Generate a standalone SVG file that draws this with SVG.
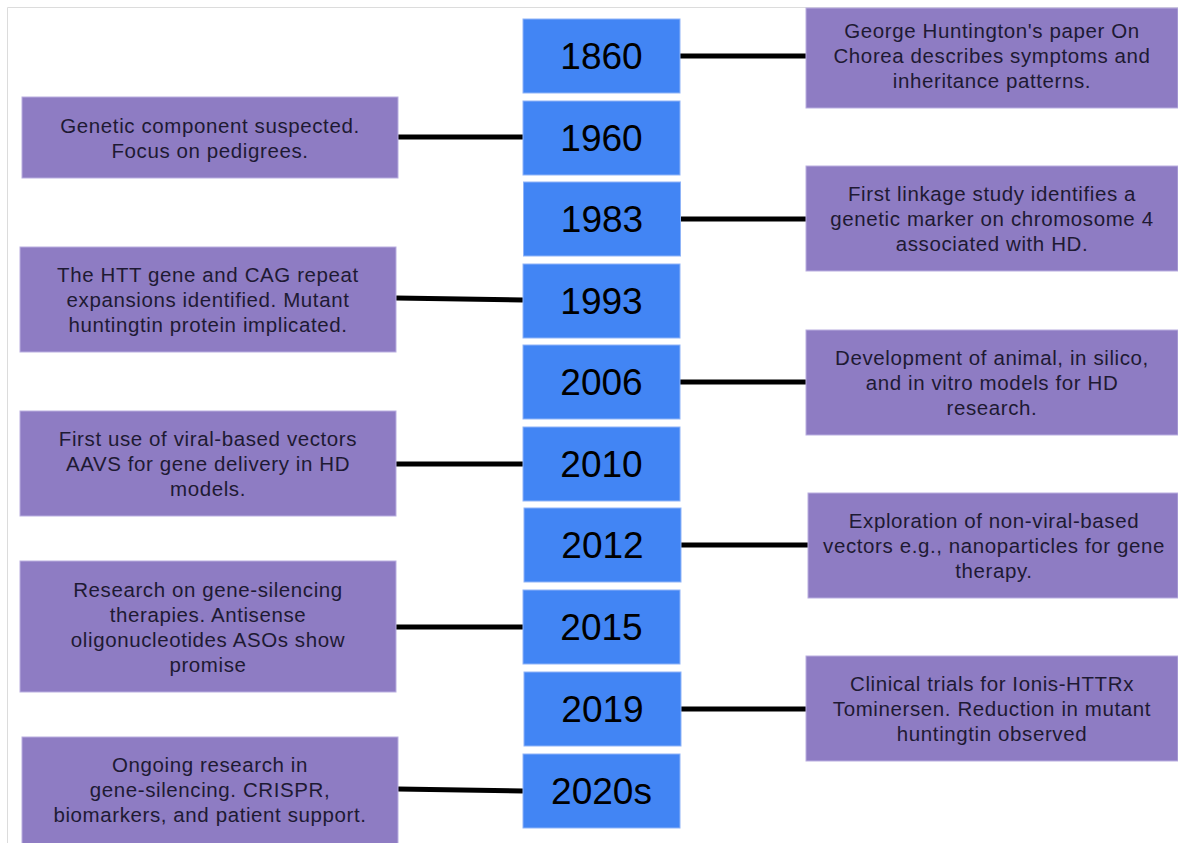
<svg xmlns="http://www.w3.org/2000/svg" width="1178" height="843" viewBox="0 0 1178 843">
<style>
.yr{fill:#4285f4;stroke:#8fb4f8;stroke-width:1}
.ds{fill:#8e7cc3;stroke:#b9aee0;stroke-width:1}
.yt{font-family:"Liberation Sans",Arial,sans-serif;font-size:37px;fill:#000;text-anchor:middle}
.dt{font-family:"Liberation Sans",Arial,sans-serif;font-size:20.5px;letter-spacing:0.6px;fill:#1e1a33;text-anchor:middle}
.cn{stroke:#000;stroke-width:5;fill:none}
</style>
<rect x="0" y="0" width="1178" height="843" fill="#fff"/>
<path d="M7.5 843V7.5H1178" stroke="#dcdcdc" stroke-width="1" fill="none"/>
<g id="connectors">
<line class="cn" x1="680" y1="56" x2="806" y2="56"/>
<line class="cn" x1="398" y1="137" x2="523" y2="137"/>
<line class="cn" x1="680" y1="219" x2="806" y2="219"/>
<line class="cn" x1="396" y1="298" x2="523" y2="300"/>
<line class="cn" x1="680" y1="382" x2="806" y2="382"/>
<line class="cn" x1="396" y1="464" x2="523" y2="464"/>
<line class="cn" x1="680" y1="545" x2="808" y2="545"/>
<line class="cn" x1="396" y1="627" x2="523" y2="627"/>
<line class="cn" x1="680" y1="709" x2="806" y2="709"/>
<line class="cn" x1="398" y1="789" x2="523" y2="791"/>
</g>
<g id="y1860"><rect class="yr" x="523" y="19" width="157" height="74"/><text class="yt" x="601.5" y="69">1860</text></g>
<g id="y1960"><rect class="yr" x="523" y="101" width="157" height="74"/><text class="yt" x="601.5" y="151">1960</text></g>
<g id="y1983"><rect class="yr" x="523.5" y="182" width="157" height="74"/><text class="yt" x="602" y="232">1983</text></g>
<g id="y1993"><rect class="yr" x="523" y="264" width="157" height="74"/><text class="yt" x="601.5" y="314">1993</text></g>
<g id="y2006"><rect class="yr" x="523" y="345" width="157" height="74"/><text class="yt" x="601.5" y="395">2006</text></g>
<g id="y2010"><rect class="yr" x="523" y="427" width="157" height="74"/><text class="yt" x="601.5" y="477">2010</text></g>
<g id="y2012"><rect class="yr" x="524" y="508" width="157" height="74"/><text class="yt" x="602.5" y="558">2012</text></g>
<g id="y2015"><rect class="yr" x="523" y="590" width="157" height="74"/><text class="yt" x="601.5" y="640">2015</text></g>
<g id="y2019"><rect class="yr" x="524" y="672" width="157" height="74"/><text class="yt" x="602.5" y="722">2019</text></g>
<g id="y2020s"><rect class="yr" x="523" y="754" width="157" height="74"/><text class="yt" x="601.5" y="804">2020s</text></g>
<g id="d1860"><rect class="ds" x="806" y="8" width="372" height="100"/><text class="dt" x="992" y="38">George Huntington's paper On</text><text class="dt" x="992" y="63">Chorea describes symptoms and</text><text class="dt" x="992" y="88">inheritance patterns.</text></g>
<g id="d1960"><rect class="ds" x="22" y="97" width="376" height="81"/><text class="dt" x="210" y="133">Genetic component suspected.</text><text class="dt" x="210" y="158">Focus on pedigrees.</text></g>
<g id="d1983"><rect class="ds" x="806" y="166" width="372" height="105"/><text class="dt" x="992" y="201">First linkage study identifies a</text><text class="dt" x="992" y="226">genetic marker on chromosome 4</text><text class="dt" x="992" y="251">associated with HD.</text></g>
<g id="d1993"><rect class="ds" x="20" y="247" width="376" height="105"/><text class="dt" x="208" y="282">The HTT gene and CAG repeat</text><text class="dt" x="208" y="307">expansions identified. Mutant</text><text class="dt" x="208" y="332">huntingtin protein implicated.</text></g>
<g id="d2006"><rect class="ds" x="806" y="330" width="372" height="105"/><text class="dt" x="992" y="365">Development of animal, in silico,</text><text class="dt" x="992" y="390">and in vitro models for HD</text><text class="dt" x="992" y="415">research.</text></g>
<g id="d2010"><rect class="ds" x="20" y="411" width="376" height="105"/><text class="dt" x="208" y="446">First use of viral-based vectors</text><text class="dt" x="208" y="471">AAVS for gene delivery in HD</text><text class="dt" x="208" y="496">models.</text></g>
<g id="d2012"><rect class="ds" x="808" y="493" width="370" height="105"/><text class="dt" x="994" y="528">Exploration of non-viral-based</text><text class="dt" x="994" y="553">vectors e.g., nanoparticles for gene</text><text class="dt" x="994" y="578">therapy.</text></g>
<g id="d2015"><rect class="ds" x="20" y="561" width="376" height="131"/><text class="dt" x="208" y="597">Research on gene-silencing</text><text class="dt" x="208" y="622">therapies. Antisense</text><text class="dt" x="208" y="647">oligonucleotides ASOs show</text><text class="dt" x="208" y="672">promise</text></g>
<g id="d2019"><rect class="ds" x="806" y="656" width="372" height="105"/><text class="dt" x="992" y="691">Clinical trials for Ionis-HTTRx</text><text class="dt" x="992" y="716">Tominersen. Reduction in mutant</text><text class="dt" x="992" y="741">huntingtin observed</text></g>
<g id="d2020s"><rect class="ds" x="22" y="737" width="376" height="110"/><text class="dt" x="210" y="772">Ongoing research in</text><text class="dt" x="210" y="797">gene-silencing. CRISPR,</text><text class="dt" x="210" y="822">biomarkers, and patient support.</text></g>
</svg>
